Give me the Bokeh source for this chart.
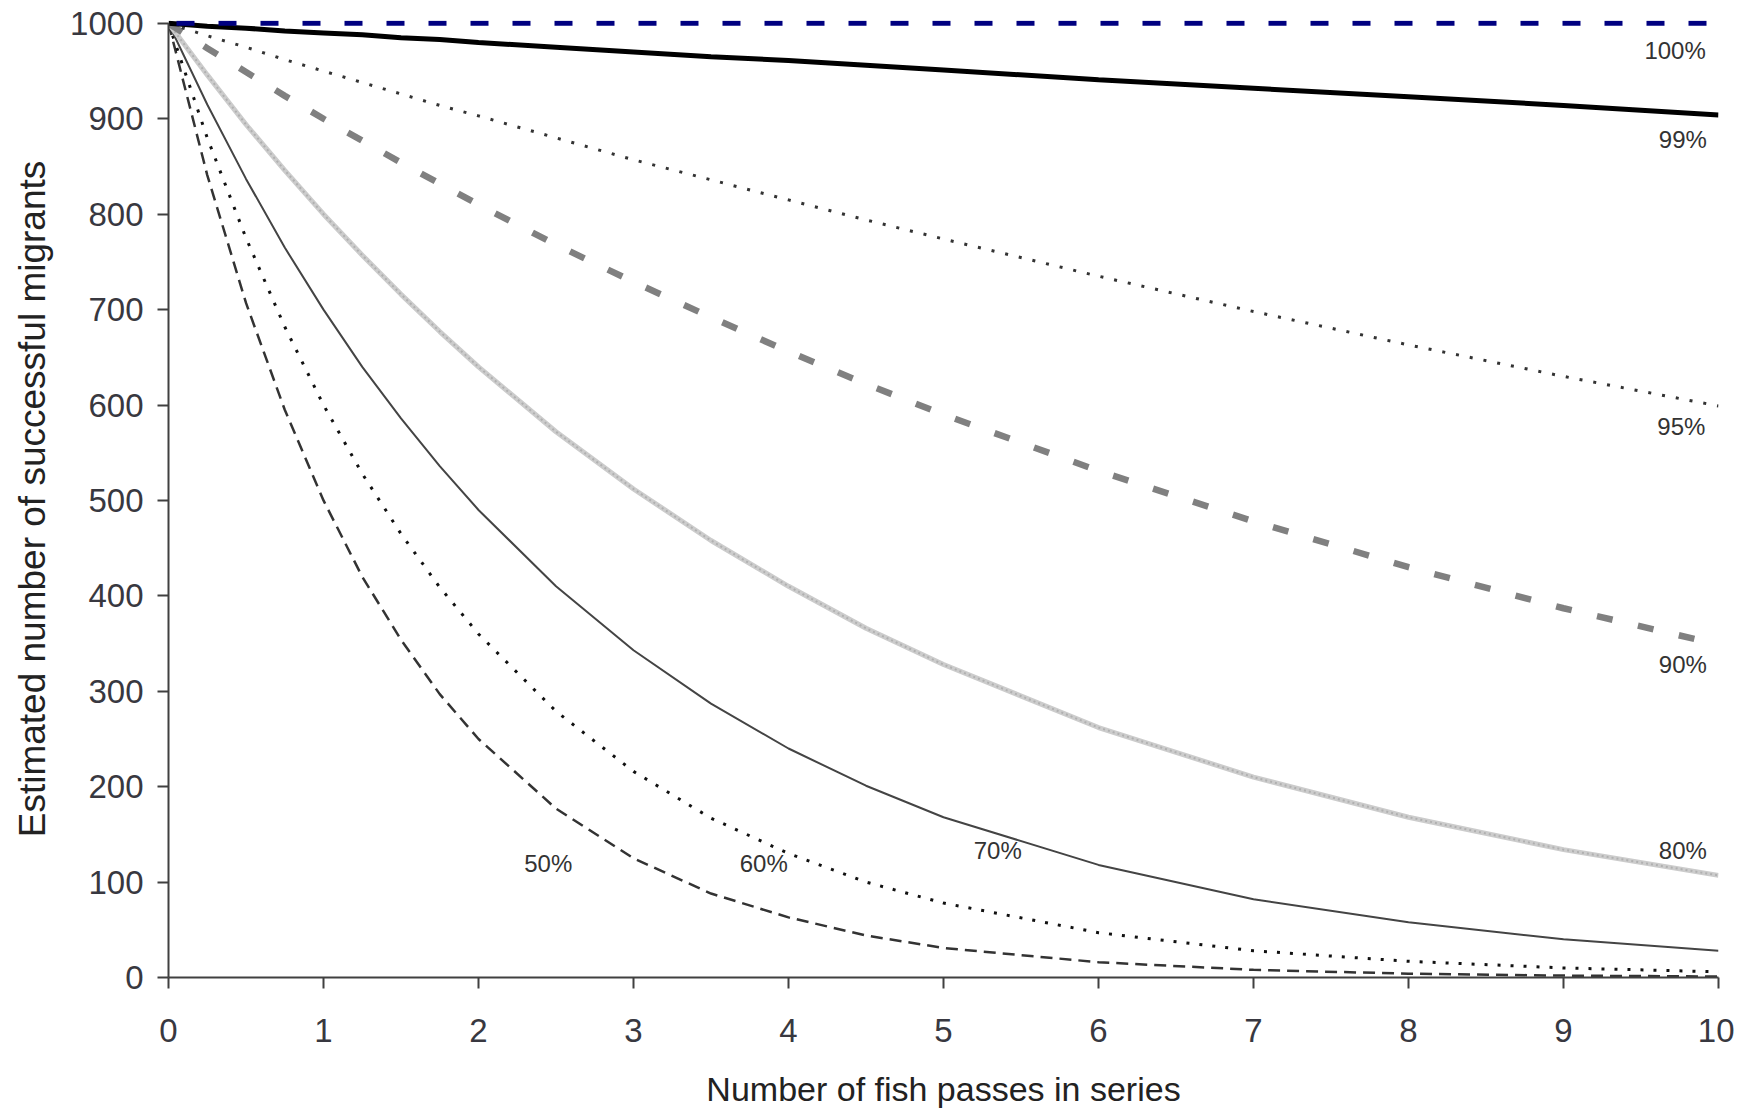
from bokeh.plotting import figure
from bokeh.models import Range1d, FixedTicker, ColumnDataSource
from bokeh.embed import file_html
from bokeh.resources import INLINE
from bokeh.core.properties import value

# ---- data ----
passes = [0, 0.25, 0.5, 0.75, 1, 1.25, 1.5, 1.75, 2, 2.5, 3, 3.5, 4, 4.5, 5, 6, 7, 8, 9, 10]
p100 = [1000, 1000, 1000, 1000, 1000, 1000, 1000, 1000, 1000, 1000, 1000, 1000, 1000, 1000, 1000, 1000, 1000, 1000, 1000, 1000]
p99 = [1000, 997, 995, 992, 990, 988, 985, 983, 980, 975, 970, 965, 961, 956, 951, 941, 932, 923, 914, 904]
p95 = [1000, 987, 975, 962, 950, 938, 926, 914, 903, 880, 857, 836, 815, 794, 774, 735, 698, 663, 630, 599]
p90 = [1000, 974, 949, 924, 900, 877, 854, 832, 810, 768, 729, 692, 656, 622, 590, 531, 478, 430, 387, 349]
p80 = [1000, 946, 894, 846, 800, 757, 716, 677, 640, 572, 512, 458, 410, 366, 328, 262, 210, 168, 134, 107]
p70 = [1000, 915, 837, 765, 700, 640, 586, 536, 490, 410, 343, 287, 240, 201, 168, 118, 82, 58, 40, 28]
p60 = [1000, 880, 775, 682, 600, 528, 465, 409, 360, 279, 216, 167, 130, 100, 78, 47, 28, 17, 10, 6]
p50 = [1000, 841, 707, 595, 500, 420, 354, 297, 250, 177, 125, 88, 63, 44, 31, 16, 8, 4, 2, 1]

label_text = ["100%", "99%", "95%", "90%", "80%", "70%", "60%", "50%"]
label_x = [9.72, 9.77, 9.76, 9.77, 9.77, 5.35, 3.84, 2.45]
label_y = [972, 878, 578, 328, 133, 133, 119, 119]

x_ticks = [0, 1, 2, 3, 4, 5, 6, 7, 8, 9, 10]
y_ticks = [0, 100, 200, 300, 400, 500, 600, 700, 800, 900, 1000]

FONT = "Liberation Sans"

p = figure(width=1734, height=1110, output_backend="svg", toolbar_location=None,
           x_range=Range1d(0, 10), y_range=Range1d(0, 1003),
           min_border_left=168, min_border_right=16, min_border_top=20, min_border_bottom=133)
p.outline_line_color = None
p.xgrid.visible = False
p.ygrid.visible = False
p.background_fill_color = "white"

# series
p.line(passes, p50, line_color="#333333", line_width=2.5, line_dash="12 7")
p.line(passes, p60, line_color="#111111", line_width=3, line_dash="3 10")
p.line(passes, p70, line_color="#444444", line_width=2)
p.line(passes, p80, line_color="#cccccc", line_width=5)
p.line(passes, p80, line_color="#b0b0b0", line_width=2, line_dash="2 3")
p.line(passes, p90, line_color="#808080", line_width=6.5, line_dash="16 26")
p.line(passes, p95, line_color="#333333", line_width=3, line_dash="3 11")
p.line(passes, p99, line_color="#000000", line_width=5)
p.line(passes, p100, line_color="#000080", line_width=5, line_dash="18 24", line_dash_offset=-8)

src = ColumnDataSource(dict(x=label_x, y=label_y, t=label_text))
p.text(x="x", y="y", text="t", source=src, text_align="center", text_baseline="middle",
       text_font=value(FONT), text_font_size="24px", text_color="#333333")

for ax in (p.xaxis, p.yaxis):
    ax.axis_line_color = "#404040"
    ax.axis_line_width = 2
    ax.major_tick_line_color = "#404040"
    ax.major_tick_line_width = 2
    ax.major_tick_out = 11
    ax.major_tick_in = 0
    ax.minor_tick_line_color = None
    ax.major_label_text_font = FONT
    ax.major_label_text_font_size = "33px"
    ax.major_label_text_color = "#383840"
    ax.axis_label_text_font = FONT
    ax.axis_label_text_font_style = "normal"
    ax.axis_label_text_color = "#222222"

p.yaxis.bounds = (0, 1000)
p.xaxis.ticker = FixedTicker(ticks=x_ticks)
p.yaxis.ticker = FixedTicker(ticks=y_ticks)
p.xaxis.axis_label = "Number of fish passes in series"
p.yaxis.axis_label = "Estimated number of successful migrants"
p.xaxis.axis_label_text_font_size = "34px"
p.yaxis.axis_label_text_font_size = "37px"
p.xaxis.major_label_standoff = 30
p.yaxis.major_label_standoff = 14
p.xaxis.axis_label_standoff = 25
p.yaxis.axis_label_standoff = 14

open("out.html", "w").write(file_html(p, INLINE))
